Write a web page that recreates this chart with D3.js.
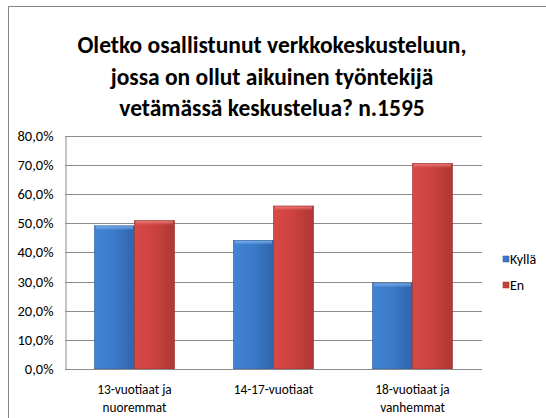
<!DOCTYPE html>
<html><head><meta charset="utf-8">
<script src="https://cdn.jsdelivr.net/npm/d3@7"></script>
<style>
html,body{margin:0;padding:0;background:#fff;}
svg{display:block;}
text{font-family:Carlito, Calibri, Lato, "Open Sans", sans-serif;fill:#000;}
</style></head>
<body>
<svg id="chart" width="546" height="418"></svg>
<script>
const titleLines = ["Oletko osallistunut verkkokeskusteluun,", "jossa on ollut aikuinen työntekijä", "vetämässä keskustelua? n.1595"];
const categories = [["13-vuotiaat ja", "nuoremmat"], ["14-17-vuotiaat"], ["18-vuotiaat ja", "vanhemmat"]];
const seriesNames = ["Kyllä", "En"];
const kylla = [49.1, 44.1, 29.5];
const en = [50.9, 55.9, 70.5];
const yTicks = [0, 10, 20, 30, 40, 50, 60, 70, 80];
const colors = ["#3a78c9", "#c8403d"];

const svg = d3.select("#chart");
const defs = svg.append("defs");
function grad(id, c1, c2, c3) {
  const g = defs.append("linearGradient").attr("id", id).attr("x1", "0").attr("x2", "1").attr("y1", "0").attr("y2", "0");
  g.append("stop").attr("offset", "0").attr("stop-color", c1);
  g.append("stop").attr("offset", "0.5").attr("stop-color", c2);
  g.append("stop").attr("offset", "1").attr("stop-color", c3);
}
grad("gBlue", "#4283d4", "#3b7ac8", "#3064aa");
grad("gRed", "#d94946", "#cb423f", "#ad3734");
function vgrad(id, c1, c2) {
  const g = defs.append("linearGradient").attr("id", id).attr("x1", "0").attr("x2", "0").attr("y1", "0").attr("y2", "1");
  g.append("stop").attr("offset", "0").attr("stop-color", c1).attr("stop-opacity", 0.9);
  g.append("stop").attr("offset", "1").attr("stop-color", c2).attr("stop-opacity", 0);
}
vgrad("hBlue", "#7fb3ef", "#7fb3ef");
vgrad("hRed", "#ee7c79", "#ee7c79");

// frame
svg.append("rect").attr("x", 8.5).attr("y", 6.5).attr("width", 560).attr("height", 430)
  .attr("fill", "#fff").attr("stroke", "#868686").attr("stroke-width", 1);

// title
svg.append("g").selectAll("text").data(titleLines).join("text")
  .attr("x", 272).attr("y", (d, i) => 53 + i * 31.5)
  .attr("text-anchor", "middle").attr("font-size", 23.5).attr("font-weight", "bold")
  .text(d => d);

const plot = {left: 65, right: 482, top: 135.7, bottom: 369};
const y = d3.scaleLinear().domain([0, 80]).range([plot.bottom, plot.top]);
const x0 = d3.scaleBand().domain(d3.range(categories.length)).range([plot.left, plot.right]).paddingInner(0.424).paddingOuter(0.212);
const x1 = d3.scaleBand().domain(d3.range(seriesNames.length)).range([0, x0.bandwidth()]);

// gridlines
svg.append("g").selectAll("line").data(yTicks.filter(t => t > 0)).join("line")
  .attr("x1", plot.left).attr("x2", plot.right)
  .attr("y1", d => Math.round(y(d)) + 0.5).attr("y2", d => Math.round(y(d)) + 0.5)
  .attr("stroke", "#8c8c8c").attr("stroke-width", 1);

// y axis
const yAxis = d3.axisLeft(y).tickValues(yTicks).tickSize(0).tickPadding(12)
  .tickFormat(d => d.toFixed(1).replace(".", ",") + "%");
const ya = svg.append("g").attr("transform", `translate(${plot.left + 0.5},0)`).call(yAxis);
ya.select(".domain").attr("stroke", "#8c8c8c");
ya.selectAll("text").attr("font-size", 14.5).attr("fill", "#000").style("font-family", "Carlito, Calibri, Lato, sans-serif");

// bars
const data = categories.map((c, i) => [kylla[i], en[i]]);
const groups = svg.append("g").selectAll("g").data(data).join("g")
  .attr("transform", (d, i) => `translate(${x0(i)},0)`);
groups.selectAll("rect.bar").data(d => d).join("rect").attr("class", "bar")
  .attr("x", (d, j) => x1(j)).attr("width", x1.bandwidth())
  .attr("y", d => y(d)).attr("height", d => plot.bottom - y(d))
  .attr("fill", (d, j) => j === 0 ? "url(#gBlue)" : "url(#gRed)")
  .attr("stroke", (d, j) => j === 0 ? "#2b5a99" : "#962e2c").attr("stroke-width", 0.6);
// bevel highlight top
groups.selectAll("rect.hl").data(d => d).join("rect").attr("class", "hl")
  .attr("x", (d, j) => x1(j) + 1.5).attr("width", x1.bandwidth() - 3)
  .attr("y", d => y(d) + 0.5).attr("height", 4)
  .attr("fill", (d, j) => j === 0 ? "url(#hBlue)" : "url(#hRed)");

// x axis line
svg.append("line").attr("x1", plot.left).attr("x2", plot.right)
  .attr("y1", plot.bottom + 0.5).attr("y2", plot.bottom + 0.5).attr("stroke", "#8c8c8c");

// category labels
const cl = svg.append("g").selectAll("text").data(categories).join("text")
  .attr("x", (d, i) => x0(i) + x0.bandwidth() / 2).attr("y", 394)
  .attr("text-anchor", "middle").attr("font-size", 13.3);
cl.selectAll("tspan").data(d => d).join("tspan")
  .attr("x", function() { return d3.select(this.parentNode).attr("x"); })
  .attr("dy", (d, i) => i === 0 ? 0 : 18).text(d => d);

// legend
const lg = svg.append("g").selectAll("g").data(seriesNames).join("g")
  .attr("transform", (d, i) => `translate(503,${256 + i * 26})`);
lg.append("rect").attr("width", 6).attr("height", 6).attr("fill", (d, i) => colors[i])
  .attr("stroke", (d, i) => i === 0 ? "#2b5a99" : "#962e2c").attr("stroke-width", 0.5);
lg.append("text").attr("x", 7).attr("y", 8).attr("font-size", 14).text(d => d);
</script>
</body></html>
